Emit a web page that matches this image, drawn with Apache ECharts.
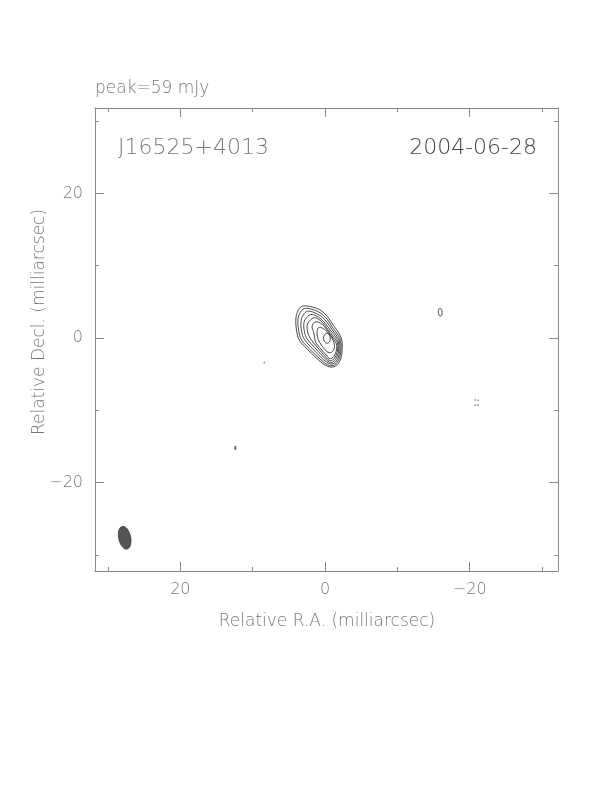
<!DOCTYPE html>
<html><head><meta charset="utf-8">
<script src="https://cdn.jsdelivr.net/npm/echarts@6/dist/echarts.min.js"></script>
<style>html,body{margin:0;padding:0;background:#fff}#c{width:612px;height:792px}</style>
</head><body><div id="c"></div>
<script>
// Axis ranges (milliarcsec)
const raRange = [-32.2, 31.8];
const decRange = [-32.2, 31.8];
const majorTicks = [-20, 0, 20];
const minorTicks = [-30, -10, 10, 30];

// Contour polylines (x = relative R.A., y = relative Decl.)
const contour1 = [[3.54,4.11],[2.99,4.43],[2.0,4.35],[0.7,3.9],[-0.3,3.0],[-1.2,1.7],[-1.95,0.6],[-2.32,-0.3],[-2.36,-1.66],[-2.1,-3.05],[-1.4,-3.9],[-0.6,-3.98],[0.4,-3.45],[2.4,-1.6],[3.55,-0.3],[3.95,1.11],[4.0,2.95]];
const contour2 = [[3.25,3.8],[2.8,4.1],[1.9,4.0],[0.7,3.5],[-0.3,2.6],[-1.05,1.45],[-1.8,0.4],[-2.15,-0.35],[-2.2,-1.6],[-1.95,-2.9],[-1.3,-3.72],[-0.6,-3.78],[0.3,-3.25],[2.15,-1.5],[3.25,-0.25],[3.65,1.05],[3.72,2.75]];
const contour3 = [[2.85,3.4],[2.45,3.7],[1.7,3.6],[0.6,3.05],[-0.25,2.2],[-0.95,1.2],[-1.65,0.25],[-2.0,-0.45],[-2.05,-1.55],[-1.8,-2.75],[-1.25,-3.5],[-0.65,-3.55],[0.15,-3.05],[1.8,-1.4],[2.85,-0.2],[3.25,0.95],[3.3,2.5]];
const contour4 = [[2.4,3.0],[2.0,3.25],[1.4,3.15],[0.5,2.6],[-0.2,1.8],[-0.85,0.95],[-1.5,0.1],[-1.85,-0.55],[-1.9,-1.5],[-1.65,-2.6],[-1.15,-3.3],[-0.65,-3.35],[0.0,-2.85],[1.45,-1.3],[2.45,-0.15],[2.85,0.85],[2.9,2.2]];
const contour5 = [[1.95,2.55],[1.6,2.8],[1.05,2.7],[0.35,2.15],[-0.2,1.45],[-0.8,0.65],[-1.35,-0.05],[-1.72,-0.65],[-1.75,-1.5],[-1.5,-2.45],[-1.05,-3.05],[-0.6,-3.1],[-0.1,-2.65],[1.1,-1.25],[2.0,-0.1],[2.4,0.8],[2.45,1.9]];
const contour6 = [[1.6,2.05],[1.2,2.25],[0.7,2.1],[0.1,1.6],[-0.5,0.8],[-1.15,-0.1],[-1.55,-0.75],[-1.6,-1.5],[-1.35,-2.3],[-0.95,-2.8],[-0.55,-2.8],[-0.15,-2.35],[0.75,-1.3],[1.3,-0.6],[1.45,0.1],[1.6,0.9],[1.8,1.5]];
const contour7 = [[0.95,1.4],[0.5,1.45],[-0.05,1.1],[-0.65,0.45],[-1.1,-0.3],[-1.3,-1.0],[-1.2,-1.65],[-0.8,-2.0],[-0.3,-1.9],[0.25,-1.3],[0.75,-0.6],[1.05,0.2],[1.1,0.9]];
const contour8 = [[0.2,-0.05],[0.1,0.42],[-0.22,0.65],[-0.58,0.45],[-0.72,0.0],[-0.64,-0.47],[-0.3,-0.72],[0.07,-0.5]];
const knotEast = [[-15.65,3.6],[-15.72,4.0],[-15.92,4.12],[-16.15,3.8],[-16.18,3.3],[-16.0,3.04],[-15.75,3.15]];
const knotSouth = [[12.35,-14.95],[12.45,-15.0],[12.45,-15.4],[12.35,-15.4]];
const contours = [contour1, contour2, contour3, contour4, contour5, contour6, contour7, contour8, knotEast, knotSouth];

// Isolated specks
const specks = [[8.4,-3.4],[-20.75,-8.55],[-21.15,-8.6],[-20.75,-9.25],[-21.15,-9.25]];

// Restoring beam (mas, deg)
const beam = {x: 27.7, y: -27.6, bmaj: 3.2, bmin: 1.65, pa: 12};

const fmt = v => v < 0 ? '\u2212' + Math.abs(v) : String(v);
const frameColor = '#8a8a8a';
const labelFont = {color: '#777', fontSize: 16, fontFamily: 'DejaVu Sans', fontWeight: 200};

function xAx(position, ticks, len, labels, line) {
  return {type: 'value', min: raRange[0], max: raRange[1], inverse: true, position: position,
    axisLine: {show: line, onZero: false, lineStyle: {color: frameColor, width: 1}},
    axisTick: {show: true, inside: true, length: len, customValues: ticks, lineStyle: {color: frameColor, width: 1}},
    axisLabel: labels ? Object.assign({show: true, customValues: majorTicks, formatter: fmt, margin: 11}, labelFont) : {show: false},
    splitLine: {show: false}};
}
function yAx(position, ticks, len, labels, line) {
  return {type: 'value', min: decRange[0], max: decRange[1], position: position,
    axisLine: {show: line, onZero: false, lineStyle: {color: frameColor, width: 1}},
    axisTick: {show: true, inside: true, length: len, customValues: ticks, lineStyle: {color: frameColor, width: 1}},
    axisLabel: labels ? Object.assign({show: true, customValues: majorTicks, formatter: fmt, margin: 12}, labelFont) : {show: false},
    splitLine: {show: false}};
}

const chart = echarts.init(document.getElementById('c'), null, {renderer: 'canvas'});
chart.setOption({
  animation: false,
  backgroundColor: '#fff',
  grid: {left: 95, right: 54, top: 108, bottom: 221, containLabel: false},
  xAxis: [xAx('bottom', majorTicks, 9, true, true), xAx('bottom', minorTicks, 4, false, false),
          xAx('top', majorTicks, 9, false, true), xAx('top', minorTicks, 4, false, false)],
  yAxis: [yAx('left', majorTicks, 9, true, true), yAx('left', minorTicks, 4, false, false),
          yAx('right', majorTicks, 9, false, true), yAx('right', minorTicks, 4, false, false)],
  graphic: [
    {type: 'text', x: 95, y: 89, style: {text: 'peak=59 mJy', fill: '#777', font: '200 17px "DejaVu Sans"', verticalAlign: 'middle', align: 'left'}},
    {type: 'text', x: 118, y: 148, style: {text: 'J16525+4013', fill: '#7a7a7a', font: '200 22px "DejaVu Sans"', verticalAlign: 'middle', align: 'left'}},
    {type: 'text', x: 537, y: 148, style: {text: '2004-06-28', fill: '#444', font: '200 22px "DejaVu Sans"', verticalAlign: 'middle', align: 'right'}},
    {type: 'text', x: 327, y: 622, style: {text: 'Relative R.A. (milliarcsec)', fill: '#777', font: '200 17px "DejaVu Sans"', verticalAlign: 'middle', align: 'center'}},
    {type: 'text', x: 40, y: 322, rotation: Math.PI / 2, style: {text: 'Relative Decl. (milliarcsec)', fill: '#777', font: '200 17px "DejaVu Sans"', verticalAlign: 'middle', align: 'center'}}
  ],
  series: [
    {type: 'custom', xAxisIndex: 0, yAxisIndex: 0, clip: true,
     data: contours.map((c, i) => ({value: [c[0][0], c[0][1], i]})),
     renderItem: function (params, api) {
       const idx = api.value(2);
       const pts = contours[idx].map(p => api.coord(p));
       return {type: 'polygon', shape: {points: pts, smooth: idx >= 8 ? 0.3 : 0.35},
               style: {fill: 'none', stroke: '#333', lineWidth: 0.9}};
     }},
    {type: 'custom', xAxisIndex: 0, yAxisIndex: 0,
     data: [[beam.x, beam.y]],
     renderItem: function (params, api) {
       const pa = beam.pa * Math.PI / 180;
       const pts = [];
       for (let k = 0; k < 48; k++) {
         const t = 2 * Math.PI * k / 48;
         const u = beam.bmaj / 2 * Math.cos(t), v = beam.bmin / 2 * Math.sin(t);
         pts.push(api.coord([beam.x + u * Math.sin(pa) + v * Math.cos(pa), beam.y + u * Math.cos(pa) - v * Math.sin(pa)]));
       }
       return {type: 'polygon', shape: {points: pts}, style: {fill: '#555', stroke: '#333', lineWidth: 0.8}};
     }},
    {type: 'scatter', xAxisIndex: 0, yAxisIndex: 0, data: specks, symbol: 'rect', symbolSize: 1.5,
     itemStyle: {color: '#666'}, silent: true}
  ]
});
</script></body></html>
